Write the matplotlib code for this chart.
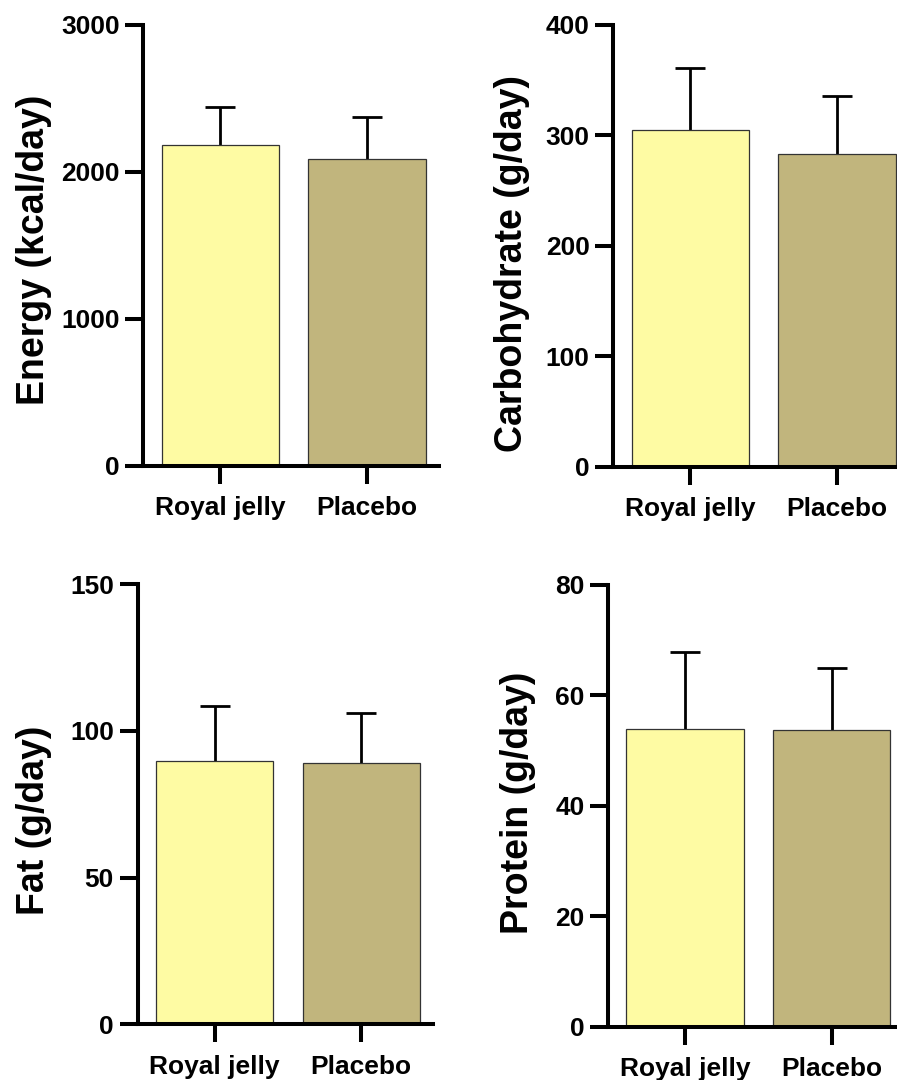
import matplotlib
matplotlib.use("Agg")
import matplotlib.pyplot as plt

plt.rcParams['font.family'] = ['Liberation Sans', 'DejaVu Sans']
plt.rcParams['font.weight'] = 'bold'

groups = ["Royal jelly", "Placebo"]

energy_mean = [2186, 2089]
energy_sd = [254, 283]
carb_mean = [305, 283]
carb_sd = [56, 53]
fat_mean = [89.7, 89.1]
fat_sd = [18.9, 16.8]
protein_mean = [54.0, 53.7]
protein_sd = [13.9, 11.3]

ylabels = ["Energy (kcal/day)", "Carbohydrate (g/day)", "Fat (g/day)", "Protein (g/day)"]
yticks_list = [[0, 1000, 2000, 3000], [0, 100, 200, 300, 400], [0, 50, 100, 150], [0, 20, 40, 60, 80]]

colors = ["#FEFBA3", "#C1B57D"]

W, H = 897, 1080
fig = plt.figure(figsize=(W / 100, H / 100), dpi=100)

# (left px, top px, bottom px)
panels = [
    (143.3, 25.0, 465.7),
    (613.3, 25.0, 466.7),
    (137.5, 584.0, 1024.3),
    (608.0, 585.0, 1026.7),
]
label_pos = [(-0.37, 0.489), (-0.343, 0.459), (-0.35, 0.464), (-0.305, 0.506)]
data = [(energy_mean, energy_sd), (carb_mean, carb_sd), (fat_mean, fat_sd), (protein_mean, protein_sd)]

axw = 295.6
for i, ((l, t, b), (m, s)) in enumerate(zip(panels, data)):
    ax = fig.add_axes([l / W, 1 - b / H, axw / W, (b - t) / H])
    x = list(range(len(groups)))
    ax.bar(x, m, width=0.8, color=colors, edgecolor="#333333", linewidth=0.9, zorder=3)
    eb = ax.errorbar(x, m, yerr=[[0] * len(s), s], fmt='none', ecolor='black',
                     elinewidth=2.0, capsize=10.5, capthick=2.0, zorder=2)
    eb[1][0].set_visible(False)
    ax.set_xlim(-0.525, 1.49)
    yt = yticks_list[i]
    ax.set_ylim(0, yt[-1])
    ax.set_yticks(yt)
    ax.set_yticklabels([str(v) for v in yt])
    ax.set_xticks(x)
    ax.set_xticklabels(groups)
    for sp in ['top', 'right']:
        ax.spines[sp].set_visible(False)
    for sp in ['left', 'bottom']:
        ax.spines[sp].set_linewidth(2.9)
        ax.spines[sp].set_capstyle('projecting')
        ax.spines[sp].set_zorder(5)
    ax.tick_params(axis='both', length=13, width=2.9, labelsize=19, direction='out')
    ax.tick_params(axis='y', pad=4)
    ax.tick_params(axis='x', pad=9)
    for lab in ax.get_xticklabels() + ax.get_yticklabels():
        lab.set_fontweight('bold')
    ax.text(label_pos[i][0], label_pos[i][1], ylabels[i], rotation=90,
            ha='center', va='center', transform=ax.transAxes,
            fontsize=27, fontweight='bold')

fig.savefig("out.png", dpi=100)
